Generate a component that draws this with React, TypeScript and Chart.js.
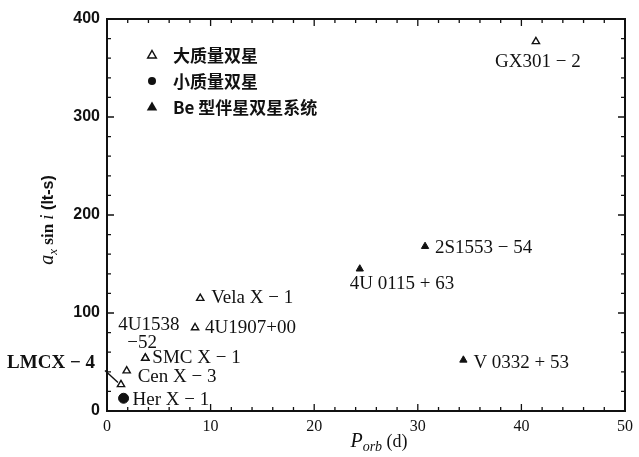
import React, { useEffect, useRef } from "react";
import { Chart, registerables } from "chart.js";

Chart.register(...registerables);

// ---- data ----
const massiveNames = ["GX301 − 2", "Vela X − 1", "4U1907+00", "SMC X − 1", "4U1538\n−52", "Cen X − 3", "LMCX − 4"];
const massiveP = [41.4, 9.0, 8.5, 3.7, 3.7, 1.9, 1.35];
const massiveA = [377, 115, 85, 54, 54, 41, 27];

const lowNames = ["Her X − 1"];
const lowP = [1.6];
const lowA = [13];

const beNames = ["2S1553 − 54", "4U 0115 + 63", "V 0332 + 53"];
const beP = [30.7, 24.4, 34.4];
const beA = [168, 145, 52];

const seriesLabels = ["大质量双星", "小质量双星", "Be 型伴星双星系统"];

const xMin = 0, xMax = 50, xMajor = 10, xMinor = 2;
const yMin = 0, yMax = 400, yMajor = 100, yMinor = 20;

// ---- styles ----
const INK = "#111";
const SERIF = '"Liberation Serif", "DejaVu Serif", serif';
const SANS = '"Liberation Sans", "DejaVu Sans", sans-serif';
const CJK = '"Noto Sans CJK SC", "Noto Sans", sans-serif';

type LabelStyle = { dx: number; dy: number; align: CanvasTextAlign; font?: string; lineDx?: number; lineDy?: number; leader?: number[] };
const labelStyles: Record<string, LabelStyle> = {
  "GX301 − 2": { dx: 2, dy: 20, align: "center" },
  "Vela X − 1": { dx: 11, dy: 0, align: "left" },
  "4U1907+00": { dx: 10, dy: 0, align: "left" },
  "SMC X − 1": { dx: 7, dy: 0, align: "left" },
  "4U1538\n−52": { dx: -27, dy: -33, align: "left", lineDx: 9, lineDy: 18 },
  "Cen X − 3": { dx: 11, dy: 6, align: "left" },
  "LMCX − 4": { dx: -26, dy: -21, align: "right", font: `bold 19px ${SERIF}`, leader: [-16, -14, -3, -2] },
  "Her X − 1": { dx: 9, dy: 2, align: "left" },
  "2S1553 − 54": { dx: 10, dy: 2, align: "left" },
  "4U 0115 + 63": { dx: -10, dy: 15, align: "left" },
  "V 0332 + 53": { dx: 10, dy: 3, align: "left" },
};

function toPoints(xs: number[], ys: number[]) {
  return xs.map((x, i) => ({ x, y: ys[i] }));
}

const framePlugin = {
  id: "frame",
  afterDraw(chart: any) {
    const { ctx, chartArea: a, scales } = chart;
    const xs = scales.x, ys = scales.y;
    ctx.save();
    ctx.strokeStyle = INK;
    ctx.lineWidth = 2;
    ctx.strokeRect(a.left, a.top, a.right - a.left, a.bottom - a.top);
    ctx.lineWidth = 1.3;
    ctx.beginPath();
    for (let v = xMin; v <= xMax + 1e-9; v += xMinor) {
      const px = xs.getPixelForValue(v);
      const len = Math.abs(v % xMajor) < 1e-9 ? 7 : 4;
      ctx.moveTo(px, a.bottom); ctx.lineTo(px, a.bottom - len);
      ctx.moveTo(px, a.top); ctx.lineTo(px, a.top + len);
    }
    for (let v = yMin; v <= yMax + 1e-9; v += yMinor) {
      const py = ys.getPixelForValue(v);
      const len = Math.abs(v % yMajor) < 1e-9 ? 7 : 4;
      ctx.moveTo(a.left, py); ctx.lineTo(a.left + len, py);
      ctx.moveTo(a.right, py); ctx.lineTo(a.right - len, py);
    }
    ctx.stroke();
    ctx.restore();
  },
};

function drawRich(ctx: CanvasRenderingContext2D, segs: { text: string; font: string; dy?: number }[], x: number, y: number, rotate: boolean) {
  ctx.save();
  ctx.translate(x, y);
  if (rotate) ctx.rotate(-Math.PI / 2);
  let total = 0;
  for (const s of segs) { ctx.font = s.font; total += ctx.measureText(s.text).width; }
  let cx = -total / 2;
  ctx.textAlign = "left";
  ctx.textBaseline = "alphabetic";
  ctx.fillStyle = INK;
  for (const s of segs) {
    ctx.font = s.font;
    ctx.fillText(s.text, cx, s.dy || 0);
    cx += ctx.measureText(s.text).width;
  }
  ctx.restore();
}

const annotPlugin = {
  id: "annot",
  afterDraw(chart: any) {
    const { ctx, chartArea: a } = chart;
    ctx.save();
    ctx.fillStyle = INK;
    ctx.strokeStyle = INK;
    // point labels
    chart.data.datasets.forEach((ds: any, di: number) => {
      const meta = chart.getDatasetMeta(di);
      ds.names.forEach((name: string, i: number) => {
        const el = meta.data[i];
        const st = labelStyles[name];
        if (!el || !st) return;
        ctx.font = st.font || `19px ${SERIF}`;
        ctx.textAlign = st.align;
        ctx.textBaseline = "middle";
        const lines = name.split("\n");
        lines.forEach((ln, k) => {
          ctx.fillText(ln, el.x + st.dx + k * (st.lineDx || 0), el.y + st.dy + k * (st.lineDy || 0));
        });
        if (st.leader) {
          ctx.lineWidth = 1.4;
          ctx.beginPath();
          ctx.moveTo(el.x + st.leader[0], el.y + st.leader[1]);
          ctx.lineTo(el.x + st.leader[2], el.y + st.leader[3]);
          ctx.stroke();
        }
      });
    });
    // legend
    const lx = a.left + 45, tx = a.left + 66;
    const rows = [a.top + 36, a.top + 62, a.top + 88];
    chart.data.datasets.forEach((ds: any, di: number) => {
      const y = rows[di];
      ctx.beginPath();
      if (ds.pointStyle === "circle") {
        ctx.arc(lx, y, 4, 0, Math.PI * 2);
        ctx.fillStyle = INK; ctx.fill();
      } else {
        const r = di === 0 ? 4.5 : 5.5;
        ctx.moveTo(lx, y - r);
        ctx.lineTo(lx + r * 0.95, y + r * 0.65);
        ctx.lineTo(lx - r * 0.95, y + r * 0.65);
        ctx.closePath();
        if (di === 0) { ctx.fillStyle = "#fff"; ctx.fill(); ctx.lineWidth = 1.5; ctx.stroke(); }
        else { ctx.fillStyle = INK; ctx.fill(); }
      }
      ctx.fillStyle = INK;
      ctx.font = `bold 17px ${CJK}`;
      ctx.textAlign = "left";
      ctx.textBaseline = "middle";
      ctx.fillText(ds.label, tx, y + 1);
    });
    ctx.restore();
    // axis titles
    drawRich(ctx, [
      { text: "a", font: `italic 20px ${SERIF}` },
      { text: "x", font: `italic 13px ${SERIF}`, dy: 4 },
      { text: " sin ", font: `bold 17px ${SERIF}` },
      { text: "i", font: `italic 19px ${SERIF}` },
      { text: " (lt-s)", font: `bold 16px ${SANS}` },
    ], 53, 220, true);
    drawRich(ctx, [
      { text: "P", font: `italic 20px ${SERIF}` },
      { text: "orb", font: `italic 14px ${SERIF}`, dy: 4 },
      { text: " (d)", font: `18px ${SERIF}` },
    ], 379, 447, false);
  },
};

export default function App() {
  const ref = useRef<HTMLCanvasElement | null>(null);
  useEffect(() => {
    if (!ref.current) return;
    const chart = new Chart(ref.current, {
      type: "scatter",
      data: {
        datasets: [
          {
            label: seriesLabels[0],
            names: massiveNames,
            data: toPoints(massiveP, massiveA),
            pointStyle: "triangle",
            pointRadius: 4.2,
            backgroundColor: "#fff",
            borderColor: INK,
            borderWidth: 1.4,
          } as any,
          {
            label: seriesLabels[1],
            names: lowNames,
            data: toPoints(lowP, lowA),
            pointStyle: "circle",
            pointRadius: 5,
            backgroundColor: INK,
            borderColor: INK,
            borderWidth: 1,
          } as any,
          {
            label: seriesLabels[2],
            names: beNames,
            data: toPoints(beP, beA),
            pointStyle: "triangle",
            pointRadius: 4.2,
            backgroundColor: INK,
            borderColor: INK,
            borderWidth: 1,
          } as any,
        ],
      },
      options: {
        animation: false,
        responsive: true,
        maintainAspectRatio: false,
        layout: { padding: { left: 0, top: 19, right: 9, bottom: 0 } },
        plugins: { legend: { display: false }, tooltip: { enabled: false } },
        scales: {
          x: {
            type: "linear",
            min: xMin,
            max: xMax,
            grid: { display: false, drawTicks: false },
            border: { display: false },
            ticks: { stepSize: xMajor, padding: 6, color: INK, font: { family: SERIF, size: 16 } },
            afterFit: (s: any) => { s.height = 46; },
          },
          y: {
            type: "linear",
            min: yMin,
            max: yMax,
            grid: { display: false, drawTicks: false },
            border: { display: false },
            ticks: { stepSize: yMajor, padding: 7, color: INK, font: { family: SANS, size: 16, weight: "bold" } },
            afterFit: (s: any) => { s.width = 107; },
          },
        },
      } as any,
      plugins: [framePlugin, annotPlugin],
    });
    return () => chart.destroy();
  }, []);
  return (
    <div style={{ position: "fixed", left: 0, top: 0, width: 639, height: 457, background: "#fff" }}>
      <canvas ref={ref} />
    </div>
  );
}
